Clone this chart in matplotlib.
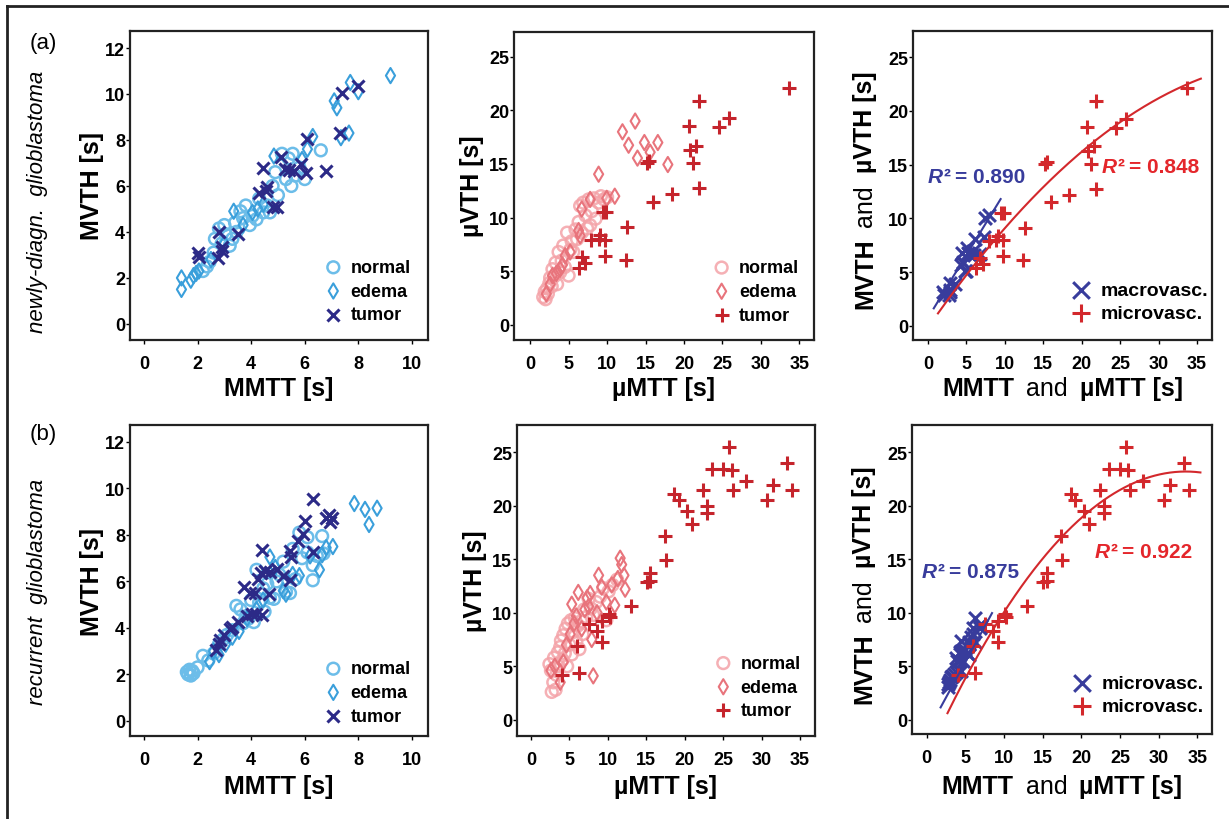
import numpy as np
import matplotlib
matplotlib.use("Agg")
import matplotlib.pyplot as plt
from matplotlib.lines import Line2D

plt.rcParams["font.family"] = ["Liberation Sans", "DejaVu Sans"]
plt.rcParams["font.weight"] = "bold"

W, H = 1229, 820

# ---------------- (a) newly diagnosed: macrovascular (MMTT, MVTH) ----------------
a_norm_x = [2.2, 2.35, 2.45, 2.6, 2.65, 2.8, 2.9, 3.0, 3.05, 3.2, 3.3, 3.4, 3.45, 3.6, 3.7,
            3.8, 3.95, 4.05, 4.2, 4.3, 4.45, 4.6, 4.7, 4.8, 4.9, 5.0, 5.15, 5.3, 5.4, 5.5,
            5.55, 5.65, 5.8, 6.0, 6.6]
a_norm_y = [2.3, 2.5, 2.7, 3.1, 3.7, 4.15, 3.5, 4.3, 3.9, 3.4, 3.7, 4.4, 4.0, 4.9, 4.6,
            5.15, 4.3, 4.7, 4.55, 5.45, 4.85, 5.15, 4.85, 6.0, 6.6, 5.6, 7.4, 6.3, 7.2, 6.0,
            7.4, 6.45, 6.8, 6.3, 7.55]
a_edema_x = [1.4, 1.4, 1.75, 1.85, 1.95, 2.05, 2.5, 3.0, 3.35, 3.7, 4.05, 4.25, 4.45, 4.85,
             5.9, 6.1, 6.3, 7.1, 7.2, 7.35, 7.65, 7.7, 8.0, 9.2]
a_edema_y = [1.5, 2.0, 1.9, 2.1, 2.2, 2.3, 2.8, 3.5, 4.9, 4.3, 4.85, 5.0, 5.2, 7.3,
             7.15, 7.6, 8.15, 9.7, 9.4, 8.1, 8.3, 10.5, 10.1, 10.8]
a_tum_x = [2.0, 2.05, 2.8, 2.75, 2.9, 2.9, 3.5, 4.3, 4.45, 4.55, 4.6, 4.8, 4.95, 5.1, 5.25,
           5.4, 5.6, 5.85, 6.05, 6.1, 6.8, 7.3, 7.4, 8.0]
a_tum_y = [3.1, 2.9, 4.0, 2.85, 3.35, 3.15, 3.9, 5.7, 6.8, 5.8, 5.95, 5.1, 5.1, 7.25, 6.75,
           6.7, 6.65, 6.95, 6.55, 8.05, 6.65, 8.3, 10.05, 10.35]

# ---------------- (a) microvascular (uMTT, uVTH) ----------------
a_unorm_x = [1.7, 1.9, 2.0, 2.2, 2.3, 2.5, 2.6, 2.8, 2.9, 3.1, 3.3, 3.5, 3.7, 3.9, 4.1, 4.3,
             4.5, 4.8, 5.0, 5.2, 5.4, 5.6, 5.9, 6.1, 6.3, 6.5, 6.7, 6.9, 7.2, 7.4, 7.6, 7.8,
             8.0, 8.3, 8.5, 8.9, 9.2, 9.6, 10.0]
a_unorm_y = [2.6, 3.1, 2.4, 3.4, 2.9, 3.9, 4.4, 3.6, 5.2, 4.5, 5.8, 3.8, 6.8, 4.9, 6.0, 7.4,
             5.4, 8.6, 4.6, 7.0, 7.8, 6.8, 8.9, 8.0, 9.6, 11.1, 8.6, 11.4, 10.2, 9.0, 11.7, 9.3,
             10.6, 11.8, 9.9, 11.4, 12.0, 11.7, 11.9]
a_uedema_x = [2.1, 2.6, 2.9, 3.4, 3.9, 4.2, 4.55, 5.2, 6.3, 6.5, 6.7, 7.8, 8.9, 9.95, 11.0,
              12.0, 12.8, 13.65, 13.95, 14.85, 15.6, 16.6, 17.9]
a_uedema_y = [2.9, 3.8, 4.6, 4.8, 5.2, 5.6, 6.45, 6.8, 8.8, 8.3, 10.8, 11.7, 14.05, 11.8, 12.0,
              18.0, 16.75, 19.0, 15.55, 17.0, 16.1, 17.0, 14.95]
a_utum_x = [6.3, 6.75, 7.1, 7.9, 8.9, 9.1, 9.75, 9.45, 9.9, 9.75, 12.4, 12.65, 15.2, 15.45,
            15.95, 18.4, 20.7, 20.8, 21.2, 21.6, 21.9, 21.9, 24.5, 25.8, 33.7]
a_utum_y = [5.35, 6.3, 5.75, 7.9, 8.0, 8.4, 7.95, 10.5, 10.5, 6.45, 6.1, 9.1, 15.1, 15.25,
            11.5, 12.2, 18.5, 16.3, 15.1, 16.7, 20.9, 12.75, 18.45, 19.3, 22.1]

# ---------------- (b) recurrent: macrovascular ----------------
b_norm_x = [1.6, 1.65, 1.7, 1.75, 1.8, 1.85, 2.0, 2.2, 2.4, 2.6, 2.8, 2.95, 3.1, 3.3, 3.45,
            3.6, 3.7, 3.8, 3.9, 4.0, 4.1, 4.2, 4.3, 4.45, 4.5, 4.6, 4.7, 4.85, 4.95, 5.05,
            5.2, 5.3, 5.45, 5.55, 5.65, 5.8, 5.9, 6.1, 6.1, 6.3, 6.3, 6.45, 6.65, 6.7]
b_norm_y = [2.1, 2.0, 2.2, 1.95, 2.15, 2.05, 2.3, 2.8, 2.6, 2.9, 3.3, 3.5, 3.7, 3.9, 4.95,
            4.8, 4.2, 4.5, 4.4, 5.2, 4.25, 6.5, 5.1, 5.7, 4.7, 5.9, 5.3, 5.25, 6.0, 6.3,
            6.85, 5.55, 5.5, 7.4, 6.1, 8.1, 7.0, 7.9, 7.25, 6.05, 6.7, 7.1, 7.95, 7.2]
b_edema_x = [2.45, 2.6, 2.8, 3.05, 3.3, 3.55, 3.85, 4.2, 4.45, 4.7, 4.9, 5.2, 5.3, 5.55,
             5.8, 6.2, 6.55, 6.65, 6.8, 7.05, 7.85, 8.25, 8.4, 8.7]
b_edema_y = [2.55, 3.0, 2.85, 3.3, 3.6, 3.85, 4.4, 4.8, 5.2, 7.05, 6.6, 5.6, 5.45, 6.3,
             6.25, 7.1, 6.5, 7.15, 7.45, 7.5, 9.35, 9.1, 8.45, 9.15]
b_tum_x = [2.7, 2.8, 2.85, 3.0, 3.2, 3.3, 3.5, 3.85, 4.05, 4.2, 4.4, 3.75, 3.95, 4.15, 4.65,
           4.25, 4.35, 4.5, 4.7, 4.95, 5.2, 5.45, 4.4, 5.45, 5.5, 6.3, 5.75, 5.95, 6.0, 6.3,
           6.8, 6.9, 7.0, 6.95]
b_tum_y = [3.05, 3.3, 3.5, 3.7, 3.95, 4.05, 4.25, 4.5, 4.6, 4.6, 4.55, 5.75, 5.5, 5.5, 5.45,
           6.1, 6.35, 6.45, 6.4, 6.55, 6.25, 6.05, 7.35, 7.3, 7.05, 7.25, 7.75, 8.05, 8.6, 9.55,
           8.75, 8.85, 8.75, 8.55]

# ---------------- (b) microvascular ----------------
b_unorm_x = [2.4, 2.6, 2.7, 2.9, 3.0, 3.2, 3.3, 3.5, 3.6, 3.8, 3.9, 4.1, 4.2, 4.4, 4.5, 4.7,
             4.8, 5.0, 5.2, 5.3, 5.5, 5.7, 5.9, 6.1, 6.3, 6.5, 6.7, 6.9, 7.2, 7.5, 7.8, 8.1,
             8.5, 9.0, 9.4, 9.8, 10.1, 10.6, 11.2]
b_unorm_y = [5.2, 4.6, 2.6, 3.5, 5.8, 2.8, 4.2, 6.3, 5.0, 6.8, 7.4, 5.6, 7.9, 6.2, 8.5, 5.0,
             9.0, 7.0, 9.3, 6.1, 8.2, 9.5, 7.3, 8.8, 6.6, 9.2, 8.0, 10.3, 9.6, 11.3, 10.4, 9.8,
             11.0, 11.5, 12.3, 9.3, 12.0, 12.6, 13.1]
b_uedema_x = [2.6, 3.1, 3.8, 4.2, 4.6, 5.1, 5.3, 5.6, 5.9, 6.15, 6.6, 7.0, 7.3, 7.5, 7.7,
              7.9, 8.1, 8.6, 8.8, 9.2, 9.8, 10.5, 10.9, 11.3, 11.6, 11.8, 12.1, 12.25]
b_uedema_y = [4.6, 5.0, 3.5, 5.4, 7.0, 8.0, 10.8, 9.0, 9.7, 11.9, 8.5, 10.3, 11.4, 10.6, 11.8,
              7.5, 4.1, 10.0, 13.5, 12.4, 11.0, 12.6, 10.7, 13.2, 15.1, 14.5, 13.5, 12.2]
b_utum_x = [25.8, 33.3, 23.6, 25.0, 26.1, 28.0, 31.5, 33.9, 26.3, 22.4, 30.75, 18.6, 19.2,
            20.3, 21.0, 22.9, 22.9, 17.4, 17.5, 15.5, 15.05, 15.5, 13.0, 10.1, 10.3, 9.2,
            7.5, 8.55, 9.2, 5.95, 4.0, 6.3]
b_utum_y = [25.5, 24.0, 23.45, 23.45, 23.35, 22.35, 21.95, 21.5, 21.5, 21.5, 20.5, 21.1, 20.5,
            19.55, 18.3, 20.0, 19.3, 17.2, 14.9, 13.7, 12.85, 13.0, 10.6, 9.9, 9.6, 9.25,
            8.95, 8.3, 7.25, 6.9, 4.2, 4.4]

# fitted curves (polynomial coefficients, x range)
a_macro_fit, a_macro_rng = [1.17, 0.74], [0.75, 9.45]
a_micro_fit, a_micro_rng = [-0.0107, 1.033, -0.175], [1.3, 35.5]
b_macro_fit, b_macro_rng = [1.326, -1.24], [1.8, 8.45]
b_micro_fit, b_micro_rng = [-0.0238, 1.5946, -3.51], [2.69, 35.4]

r2_labels = {"a": ("0.890", "0.848"), "b": ("0.875", "0.922")}

C_NORM, C_EDEMA, C_TUM = "#6cbde9", "#3a9fdb", "#2c2a87"
C_PNORM, C_PEDEMA, C_PTUM = "#f4a3a8", "#e8747c", "#c5242c"
C_BLUE, C_RED = "#383c9c", "#d3282c"


def px(x, y):
    return x / W, 1 - y / H


def rich_text(fig, x, y, parts, size, rotation=0, color="black", center=True):
    # parts: (text, weight, style, gap_after_px)
    r = fig.canvas.get_renderer()
    items = []
    for s, weight, style, gap in parts:
        t = fig.text(0, 0, s, fontsize=size, fontweight=weight, fontstyle=style,
                     color=color, ha="left", va="baseline", rotation_mode="anchor")
        items.append((t, t.get_window_extent(r).width, gap))
    total = sum(w + g for _, w, g in items)
    pos = -total / 2 if center else 0
    for t, w, g in items:
        if rotation == 0:
            t.set_position(px(x + pos, y))
        else:
            t.set_rotation(rotation)
            t.set_position(px(x, y - pos))
        pos += w + g


def style_axes(ax, xlim, ylim, xticks, yticks):
    ax.set_xlim(xlim)
    ax.set_ylim(ylim)
    ax.set_xticks(xticks)
    ax.set_yticks(yticks)
    for sp in ax.spines.values():
        sp.set_linewidth(1.6)
        sp.set_color("#222222")
    ax.tick_params(axis="x", direction="out", length=3, width=1, pad=8, labelsize=13)
    ax.tick_params(axis="y", direction="out", length=3, width=1, pad=0.5, labelsize=13)


def legend(ax, anchor, size=13, spacing=0.37, hl=0.9, scale=1.0):
    ax.legend(loc="upper left", bbox_to_anchor=anchor, frameon=False, fontsize=size,
              handlelength=hl, handletextpad=0.5, labelspacing=spacing, borderpad=0,
              borderaxespad=0, markerscale=scale)


fig = plt.figure(figsize=(W / 100, H / 100), dpi=100)

ax_pos = {
    "a1": [130, 32, 428, 341], "a2": [514, 33, 814, 341], "a3": [913, 32, 1212, 341],
    "b1": [130, 426, 428, 737], "b2": [517, 426, 815, 737], "b3": [912, 426, 1212, 735],
}
axes = {}
for k, (l, t, r, b) in ax_pos.items():
    axes[k] = fig.add_axes([l / W, 1 - b / H, (r - l) / W, (b - t) / H])

macro_ticks = [0, 2, 4, 6, 8, 10]
macro_yticks = [0, 2, 4, 6, 8, 10, 12]
micro_ticks = [0, 5, 10, 15, 20, 25, 30, 35]
micro_yticks = [0, 5, 10, 15, 20, 25]

rows = {
    "a": (a_norm_x, a_norm_y, a_edema_x, a_edema_y, a_tum_x, a_tum_y,
          a_unorm_x, a_unorm_y, a_uedema_x, a_uedema_y, a_utum_x, a_utum_y,
          a_macro_fit, a_macro_rng, a_micro_fit, a_micro_rng),
    "b": (b_norm_x, b_norm_y, b_edema_x, b_edema_y, b_tum_x, b_tum_y,
          b_unorm_x, b_unorm_y, b_uedema_x, b_uedema_y, b_utum_x, b_utum_y,
          b_macro_fit, b_macro_rng, b_micro_fit, b_micro_rng),
}
ylims1 = {"a": (-0.7, 12.74), "b": (-0.65, 12.73)}
ylims2 = {"a": (-1.4, 27.3), "b": (-1.52, 27.55)}
ylims3 = {"a": (-1.33, 27.45), "b": (-1.34, 27.55)}
xlims2 = {"a": (-2.1, 36.9), "b": (-1.82, 36.95)}
xlims3 = {"a": (-1.95, 36.95), "b": (-1.9, 36.9)}
leg_blue = {"a": "macrovasc.", "b": "microvasc."}

for row, d in rows.items():
    (nx, ny, ex, ey, tx, ty, unx, uny, uex, uey, utx, uty, mf, mr, uf, ur) = d
    ax1, ax2, ax3 = axes[row + "1"], axes[row + "2"], axes[row + "3"]

    ax1.scatter(nx, ny, s=72, marker="o", facecolors="none", edgecolors=C_NORM,
                linewidths=1.8, label="normal", zorder=2)
    ax1.scatter(ex, ey, s=60, marker="d", facecolors="none", edgecolors=C_EDEMA,
                linewidths=1.5, label="edema", zorder=3)
    ax1.scatter(tx, ty, s=75, marker="x", color=C_TUM, linewidths=2.2, label="tumor", zorder=4)
    style_axes(ax1, (-0.52, 10.6), ylims1[row], macro_ticks, macro_yticks)

    ax2.scatter(unx, uny, s=72, marker="o", facecolors="none", edgecolors=C_PNORM,
                linewidths=1.8, alpha=0.85, label="normal", zorder=2)
    ax2.scatter(uex, uey, s=60, marker="d", facecolors="none", edgecolors=C_PEDEMA,
                linewidths=1.5, label="edema", zorder=3)
    ax2.scatter(utx, uty, s=110, marker="+", color=C_PTUM, linewidths=2.2, label="tumor", zorder=4)
    style_axes(ax2, xlims2[row], ylims2[row], micro_ticks, micro_yticks)

    ax3.scatter(tx, ty, s=85, marker="x", color=C_BLUE, linewidths=2.2,
                label=leg_blue[row], zorder=3)
    ax3.scatter(utx, uty, s=110, marker="+", color=C_RED, linewidths=2.2,
                label="microvasc.", zorder=3)
    xm = np.linspace(mr[0], mr[1], 50)
    ax3.plot(xm, np.polyval(mf, xm), color=C_BLUE, lw=1.5, zorder=4)
    xu = np.linspace(ur[0], ur[1], 200)
    ax3.plot(xu, np.polyval(uf, xu), color=C_RED, lw=1.5, zorder=4)
    style_axes(ax3, xlims3[row], ylims3[row], micro_ticks, micro_yticks)

legend(axes["a1"], (0.655, 0.262))
legend(axes["a2"], (0.665, 0.262))
legend(axes["b1"], (0.655, 0.243))
legend(axes["b2"], (0.665, 0.261))
legend(axes["a3"], (0.53, 0.189), size=14, spacing=0.26, hl=1.0, scale=1.3)
legend(axes["b3"], (0.535, 0.192), size=14, spacing=0.26, hl=1.0, scale=1.3)

# axis labels
B, N = "bold", "normal"
for row, yb in (("a", 396), ("b", 794)):
    rich_text(fig, 279, yb, [("MMTT [s]", B, "normal", 0)], 18)
    cx2 = (ax_pos[row + "2"][0] + ax_pos[row + "2"][2]) / 2
    rich_text(fig, cx2, yb, [("\u00b5MTT [s]", B, "normal", 0)], 18)
    cx3 = (ax_pos[row + "3"][0] + ax_pos[row + "3"][2]) / 2
    rich_text(fig, cx3, yb, [("MMTT", B, "normal", 12), ("and", N, "normal", 12),
                             ("\u00b5MTT [s]", B, "normal", 0)], 18)

for row in ("a", "b"):
    t, b = ax_pos[row + "1"][1], ax_pos[row + "1"][3]
    cy = (t + b) / 2
    rich_text(fig, 99, cy, [("MVTH [s]", B, "normal", 0)], 18, rotation=90)
    rich_text(fig, ax_pos[row + "2"][0] - 35, cy, [("\u00b5VTH [s]", B, "normal", 0)], 18, rotation=90)
    rich_text(fig, ax_pos[row + "3"][0] - 41, cy + 4, [("MVTH", B, "normal", 12), ("and", N, "normal", 12),
                                                       ("\u00b5VTH [s]", B, "normal", 0)], 18, rotation=90)

# R^2 annotations
for row, (bx, by, rx, ry) in (("a", (928, 183, 1102, 173)), ("b", (922, 578, 1095, 558))):
    rb, rr = r2_labels[row]
    rich_text(fig, bx, by, [("R", B, "italic", 0), ("\u00b2", B, "normal", 5), ("= " + rb, B, "normal", 0)],
              15, color=C_BLUE, center=False)
    rich_text(fig, rx, ry, [("R", B, "italic", 0), ("\u00b2", B, "normal", 5), ("= " + rr, B, "normal", 0)],
              15, color="#e4262b", center=False)

# panel letters and row titles
fig.text(*px(43, 43), "(a)", fontsize=16, fontweight="normal", ha="center", va="center")
fig.text(*px(43, 435), "(b)", fontsize=16, fontweight="normal", ha="center", va="center")
fig.text(*px(38, 202), "newly-diagn.  glioblastoma", fontsize=16, fontweight="normal",
         fontstyle="italic", rotation=90, ha="center", va="center")
fig.text(*px(38, 592), "recurrent  glioblastoma", fontsize=16, fontweight="normal",
         fontstyle="italic", rotation=90, ha="center", va="center")

# outer frame (left and top edges)
fig.add_artist(Line2D([7 / W, 7 / W], [0, 1 - 7 / H], transform=fig.transFigure, color="#222222", lw=2))
fig.add_artist(Line2D([7 / W, 1], [1 - 7 / H, 1 - 7 / H], transform=fig.transFigure, color="#222222", lw=2))

fig.savefig("out.png", dpi=100)
